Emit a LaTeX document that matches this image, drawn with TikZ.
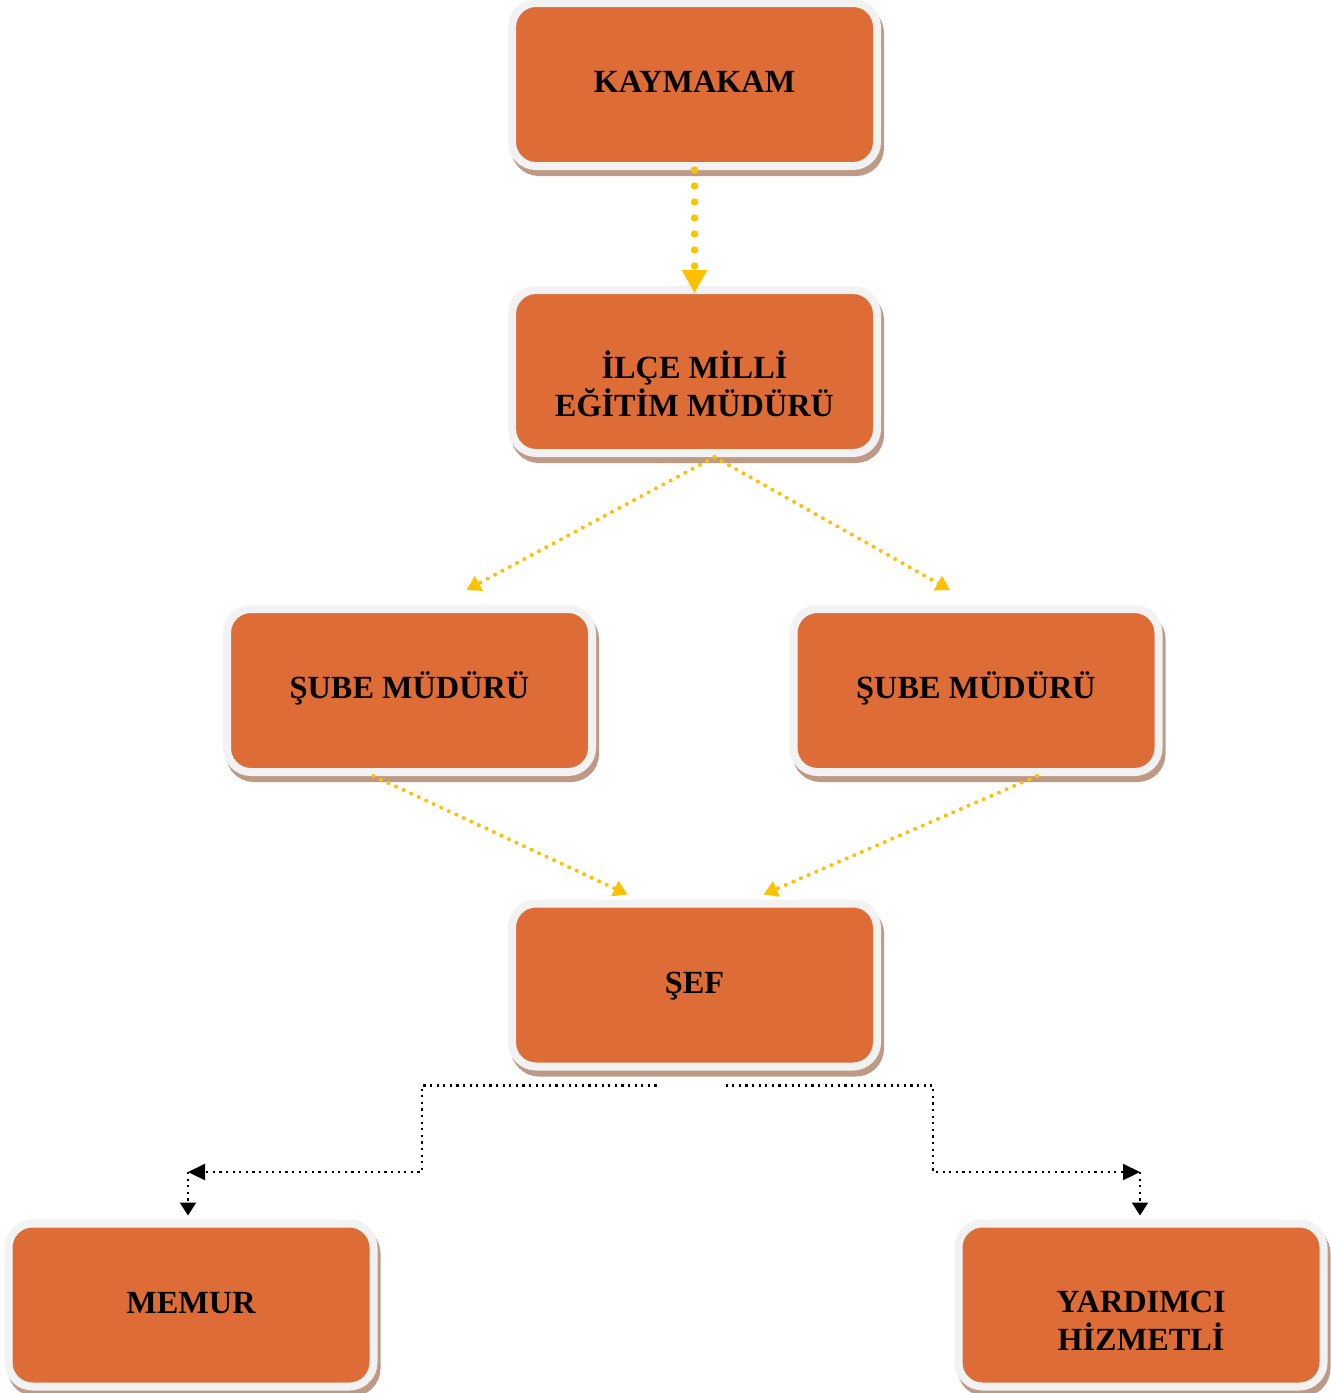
\documentclass[tikz,border=0pt]{standalone}
\usepackage{fontspec}
\setmainfont{Liberation Serif}
\usetikzlibrary{arrows.meta,calc}

\definecolor{boxfill}{HTML}{DE6C37}
\definecolor{boxrim}{HTML}{F2F2F2}
\definecolor{boxshade}{HTML}{BE9986}
\definecolor{linkgold}{HTML}{FFC000}

\begin{document}
\begin{tikzpicture}[x=1pt, y=-1pt,
        orgbox/.style={draw=boxrim, line width=8pt, fill=boxfill, rounded corners=24pt,
            minimum width=365pt, minimum height=163pt, inner sep=0pt, align=center,
            font=\bfseries\fontsize{32.3}{38}\selectfont,
            preaction={draw=boxshade, fill=boxshade, transform canvas={shift={(3pt,-6pt)}}}},
        oneline/.style={text height=22pt, text depth=6pt},
        bigdots/.style={draw=linkgold, line width=7.5pt, line cap=round,
            dash pattern=on 0pt off 16pt, -{Triangle[width=24pt,length=23pt]}},
        smalldots/.style={draw=linkgold, line width=4pt, line cap=round,
            dash pattern=on 0pt off 8.3pt, -{Triangle[width=16pt,length=14pt]}},
        blackdots/.style={draw=black, line width=2.2pt, dash pattern=on 2.2pt off 4.4pt}
    ]
        \useasboundingbox (0,0) rectangle (1331,1393);

        % boxes
        \node [orgbox, oneline] (kay) at (694.5,84.5) {KAYMAKAM};
        \node [orgbox] (ilce) at (694.5,371.5) {\rule{0pt}{52pt}İLÇE MİLLİ\\EĞİTİM MÜDÜRÜ};
        \node [orgbox, oneline] (sube1) at (409.5,690.5) {ŞUBE MÜDÜRÜ};
        \node [orgbox, oneline] (sube2) at (976,690.5) {ŞUBE MÜDÜRÜ};
        \node [orgbox, oneline] (sef) at (694.5,985) {ŞEF};
        \node [orgbox, oneline] (memur) at (191,1305) {MEMUR};
        \node [orgbox] (yard) at (1141,1305) {\rule{0pt}{52pt}YARDIMCI\\HİZMETLİ};

        % yellow links
        \draw [bigdots, shorten >=-7pt] (kay.south) -- (kay.south |- ilce.north);
        \draw [smalldots] ($(ilce.south)+(20,0)$) -- ($(sube1.north)+(57,-15)$);
        \draw [smalldots] ($(ilce.south)+(20,0)$) -- ($(sube2.north)+(-26,-15)$);
        \draw [smalldots] ($(sube1.south)+(-36,0)$) -- ($(sef.north)+(-67,-5)$);
        \draw [smalldots] ($(sube2.south)+(61,0)$) -- ($(sef.north)+(69,-5)$);

        % black links
        \coordinate (sefL) at ($(sef.south)+(-38,15)$);
        \coordinate (sefR) at ($(sef.south)+(31,15)$);
        \coordinate (bendL) at (188,1172);
        \coordinate (bendR) at (1140,1172);
        \draw [blackdots, -{Triangle[width=16pt,length=17pt]}] (sefL) -| (422,1127) |- (bendL);
        \draw [blackdots, -{Triangle[width=16pt,length=17pt]}] (sefR) -| (933,1127) |- (bendR);
        \draw [blackdots, shorten >=4pt, -{Triangle[width=16pt,length=13pt]}] (bendL) -- (bendL |- memur.north);
        \draw [blackdots, shorten >=4pt, -{Triangle[width=16pt,length=13pt]}] (bendR) -- (bendR |- yard.north);
\end{tikzpicture}
\end{document}
